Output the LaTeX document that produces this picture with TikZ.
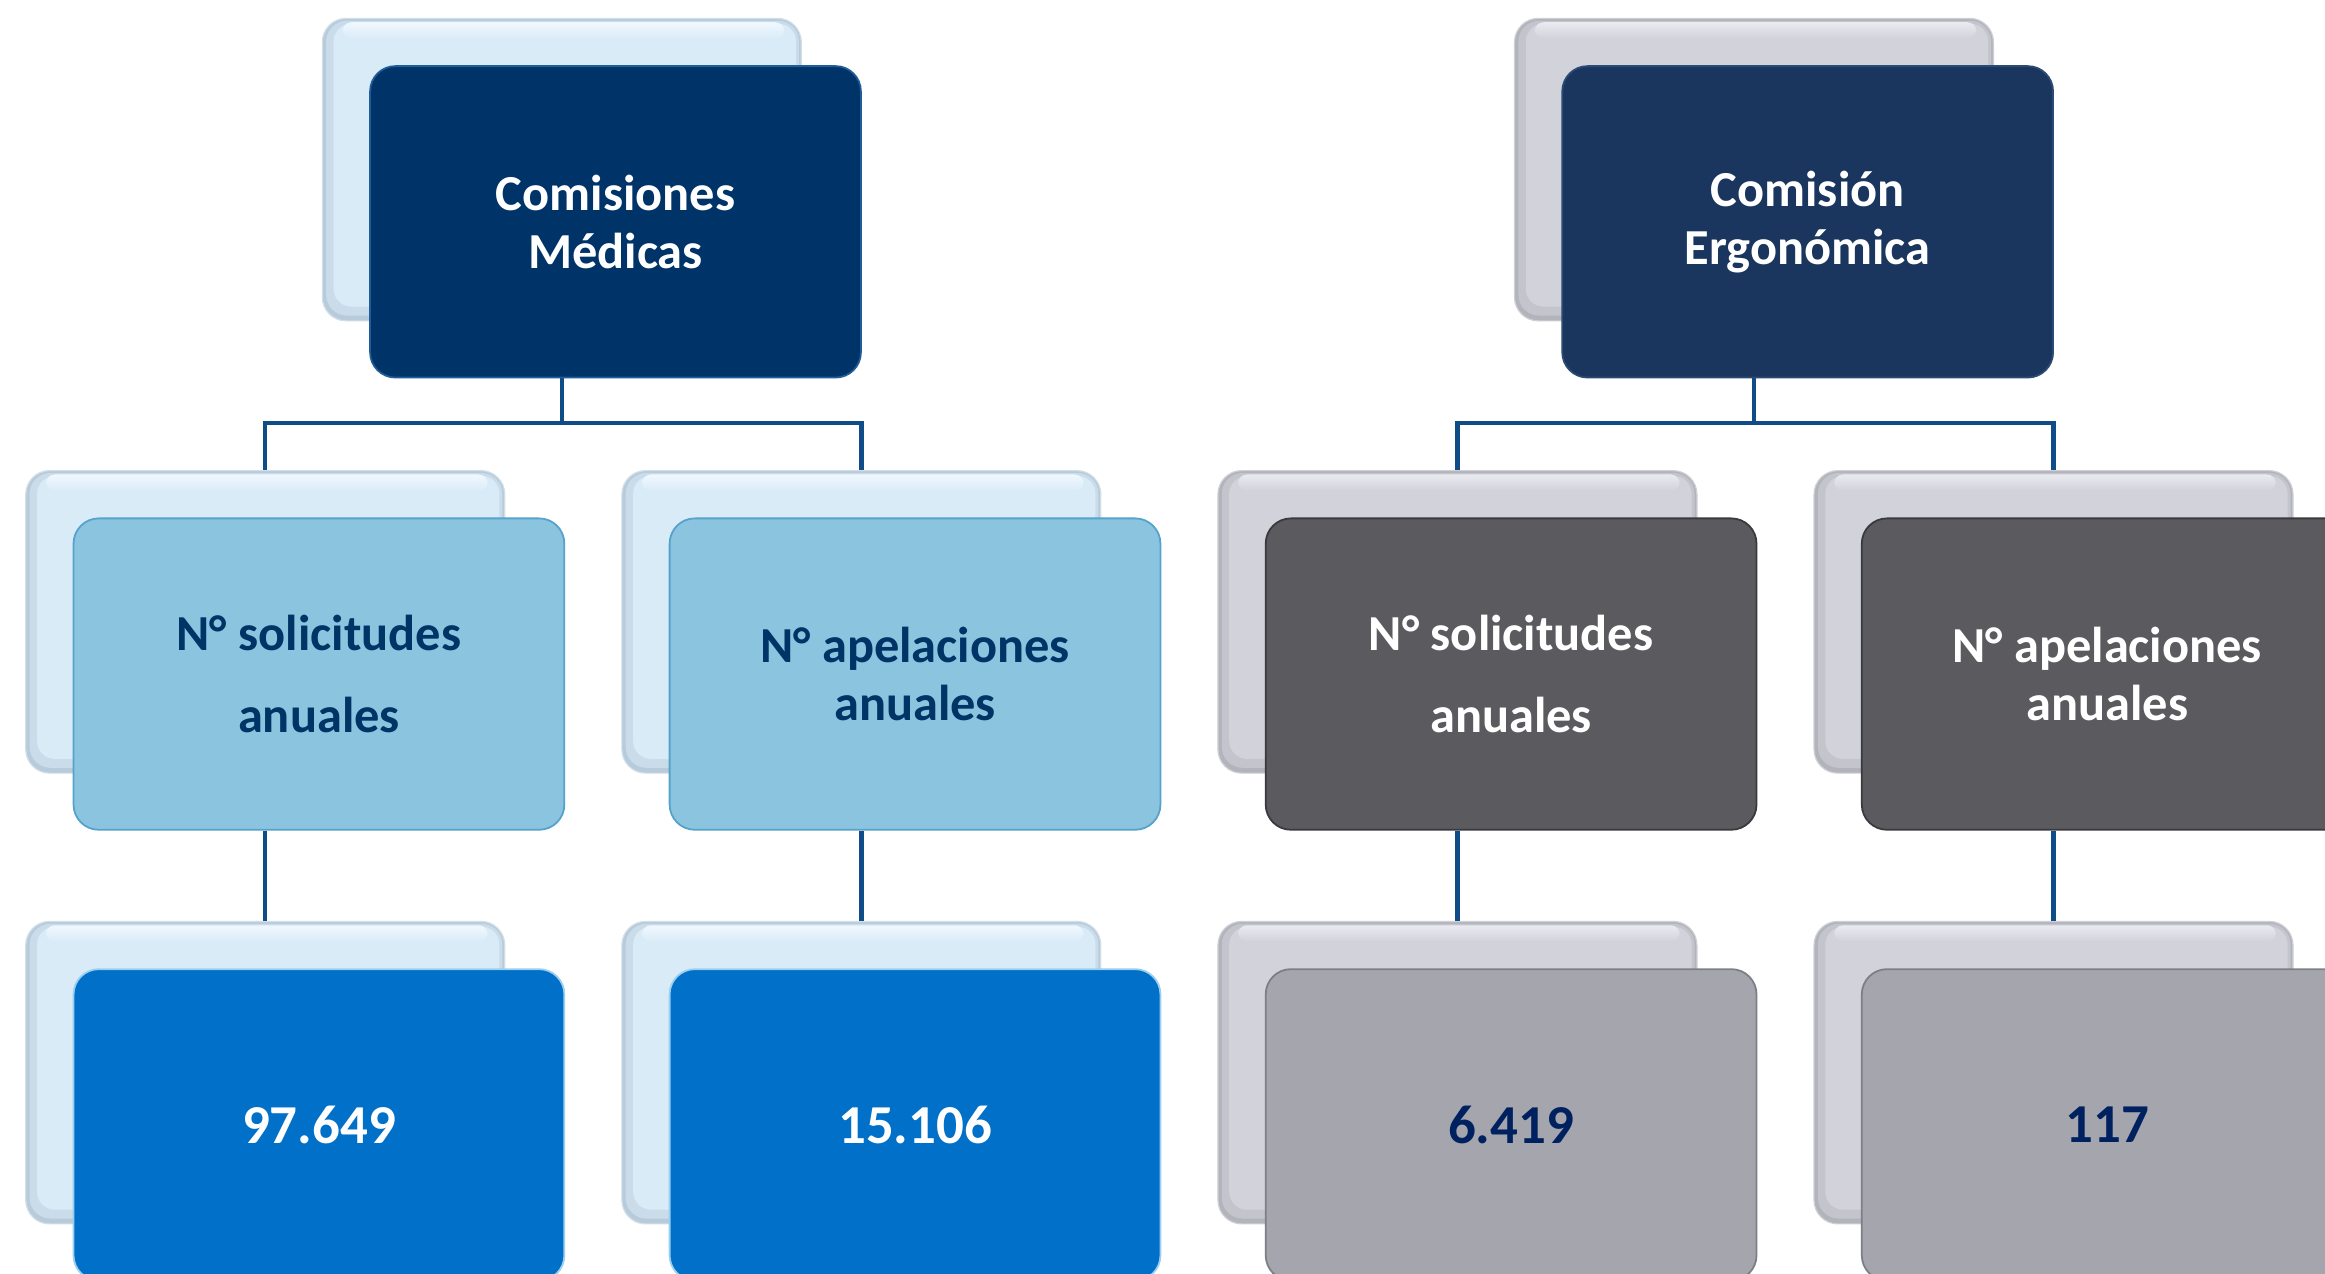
\documentclass[tikz,border=0pt]{standalone}
\usepackage{fontspec}
\setmainfont{Carlito}
\usetikzlibrary{calc}
\definecolor{navyA}{HTML}{003469}
\definecolor{navyAline}{HTML}{1F5C98}
\definecolor{navyB}{HTML}{1A365E}
\definecolor{navyBline}{HTML}{2B4A74}
\definecolor{solL}{HTML}{8BC4DE}
\definecolor{solLline}{HTML}{55A2CC}
\definecolor{numL}{HTML}{0070C9}
\definecolor{numLline}{HTML}{9ACFEE}
\definecolor{solR}{HTML}{5B5A5F}
\definecolor{solRline}{HTML}{3A393E}
\definecolor{numR}{HTML}{A5A5AE}
\definecolor{numRline}{HTML}{7E7E86}
\definecolor{txtnavy}{HTML}{003366}
\definecolor{txtnavyB}{HTML}{00215F}
\definecolor{bluefill}{HTML}{DAEBF8}
\definecolor{bluemid}{HTML}{CADCEA}
\definecolor{blueedge}{HTML}{B7CBDA}
\definecolor{blueline}{HTML}{D2DEE8}
\definecolor{bluehi}{HTML}{F0F8FE}
\definecolor{grayfill}{HTML}{D1D2DA}
\definecolor{graymid}{HTML}{C3C4CC}
\definecolor{grayedge}{HTML}{B2B3BB}
\definecolor{grayline}{HTML}{CFD0D6}
\definecolor{grayhi}{HTML}{EAEBF1}
\definecolor{connc}{HTML}{0F4C88}
\tikzset{
  bbox/.style={rectangle, rounded corners=16pt, minimum width=323pt, minimum height=204pt,
    inner sep=0pt, anchor=north west, line width=0.8pt},
  fbox/.style={rectangle, rounded corners=17pt, minimum width=331pt, minimum height=210pt,
    inner sep=0pt, anchor=north west, line width=1.2pt, align=center,
    font=\fontsize{34}{39}\selectfont\bfseries},
  numfont/.style={font=\fontsize{37}{44}\selectfont\bfseries},
  topL/.style={fbox, fill=navyA, draw=navyAline, text=white},
  topR/.style={fbox, fill=navyB, draw=navyBline, text=white},
  midL/.style={fbox, fill=solL, draw=solLline, text=txtnavy},
  midR/.style={fbox, fill=solR, draw=solRline, text=white},
  botL/.style={fbox, numfont, fill=numL, draw=numLline, text=white},
  botR/.style={fbox, numfont, fill=numR, draw=numRline, text=txtnavyB},
  conn/.style={draw=connc, line width=3pt}
}
% name, x, y, theme (blue/gray), front style, text
\newcommand\mytile[6]{%
  \node[bbox, fill=#4edge, draw=#4line] (#1B) at (#2,#3) {};
  \fill[#4mid, rounded corners=14pt] ($(#1B.north west)+(3,2)$) rectangle ($(#1B.south east)+(-2,-4)$);
  \fill[#4fill, rounded corners=12pt] ($(#1B.north west)+(8,4)$) rectangle ($(#1B.south east)+(-4,-10)$);
  \shade[top color=#4hi, bottom color=#4fill, rounded corners=6pt] ($(#1B.north west)+(14,3)$) rectangle ($(#1B.north east)+(-12,14)$);
  \node[#5] (#1) at ($(#1B.north west)+(32,32)$) {#6};
}
\begin{document}
\begin{tikzpicture}[x=1pt,y=-1pt]
\useasboundingbox (0,0) rectangle (1568,859);
\clip (0,0) rectangle (1568,859);
\fill[white] (0,0) rectangle (1568,859);

% left tree
\mytile{cm}{217}{12}{blue}{topL}{Comisiones\\Médicas}
\mytile{sl}{17}{317}{blue}{midL}{N° solicitudes\\[16pt]anuales}
\mytile{al}{419}{317}{blue}{midL}{N° apelaciones\\anuales}
\mytile{nsl}{17}{621}{blue}{botL}{97.649}
\mytile{nal}{419}{621}{blue}{botL}{15.106}

% right tree
\mytile{ce}{1021}{12}{gray}{topR}{Comisión\\Ergonómica}
\mytile{sr}{821}{317}{gray}{midR}{N° solicitudes\\[16pt]anuales}
\mytile{ar}{1223}{317}{gray}{midR}{N° apelaciones\\anuales}
\mytile{nsr}{821}{621}{gray}{botR}{6.419}
\mytile{nar}{1223}{621}{gray}{botR}{117}

% connectors
\draw[conn] (cm.south -| cmB.center) -- ++(0,30) coordinate (jl) -| (slB.north);
\draw[conn] (jl) -| (alB.north);
\draw[conn] (ce.south -| ceB.center) -- ++(0,30) coordinate (jr) -| (srB.north);
\draw[conn] (jr) -| (arB.north);
\draw[conn] (sl.south -| slB.center) -- (nslB.north);
\draw[conn] (al.south -| alB.center) -- (nalB.north);
\draw[conn] (sr.south -| srB.center) -- (nsrB.north);
\draw[conn] (ar.south -| arB.center) -- (narB.north);
\end{tikzpicture}
\end{document}
